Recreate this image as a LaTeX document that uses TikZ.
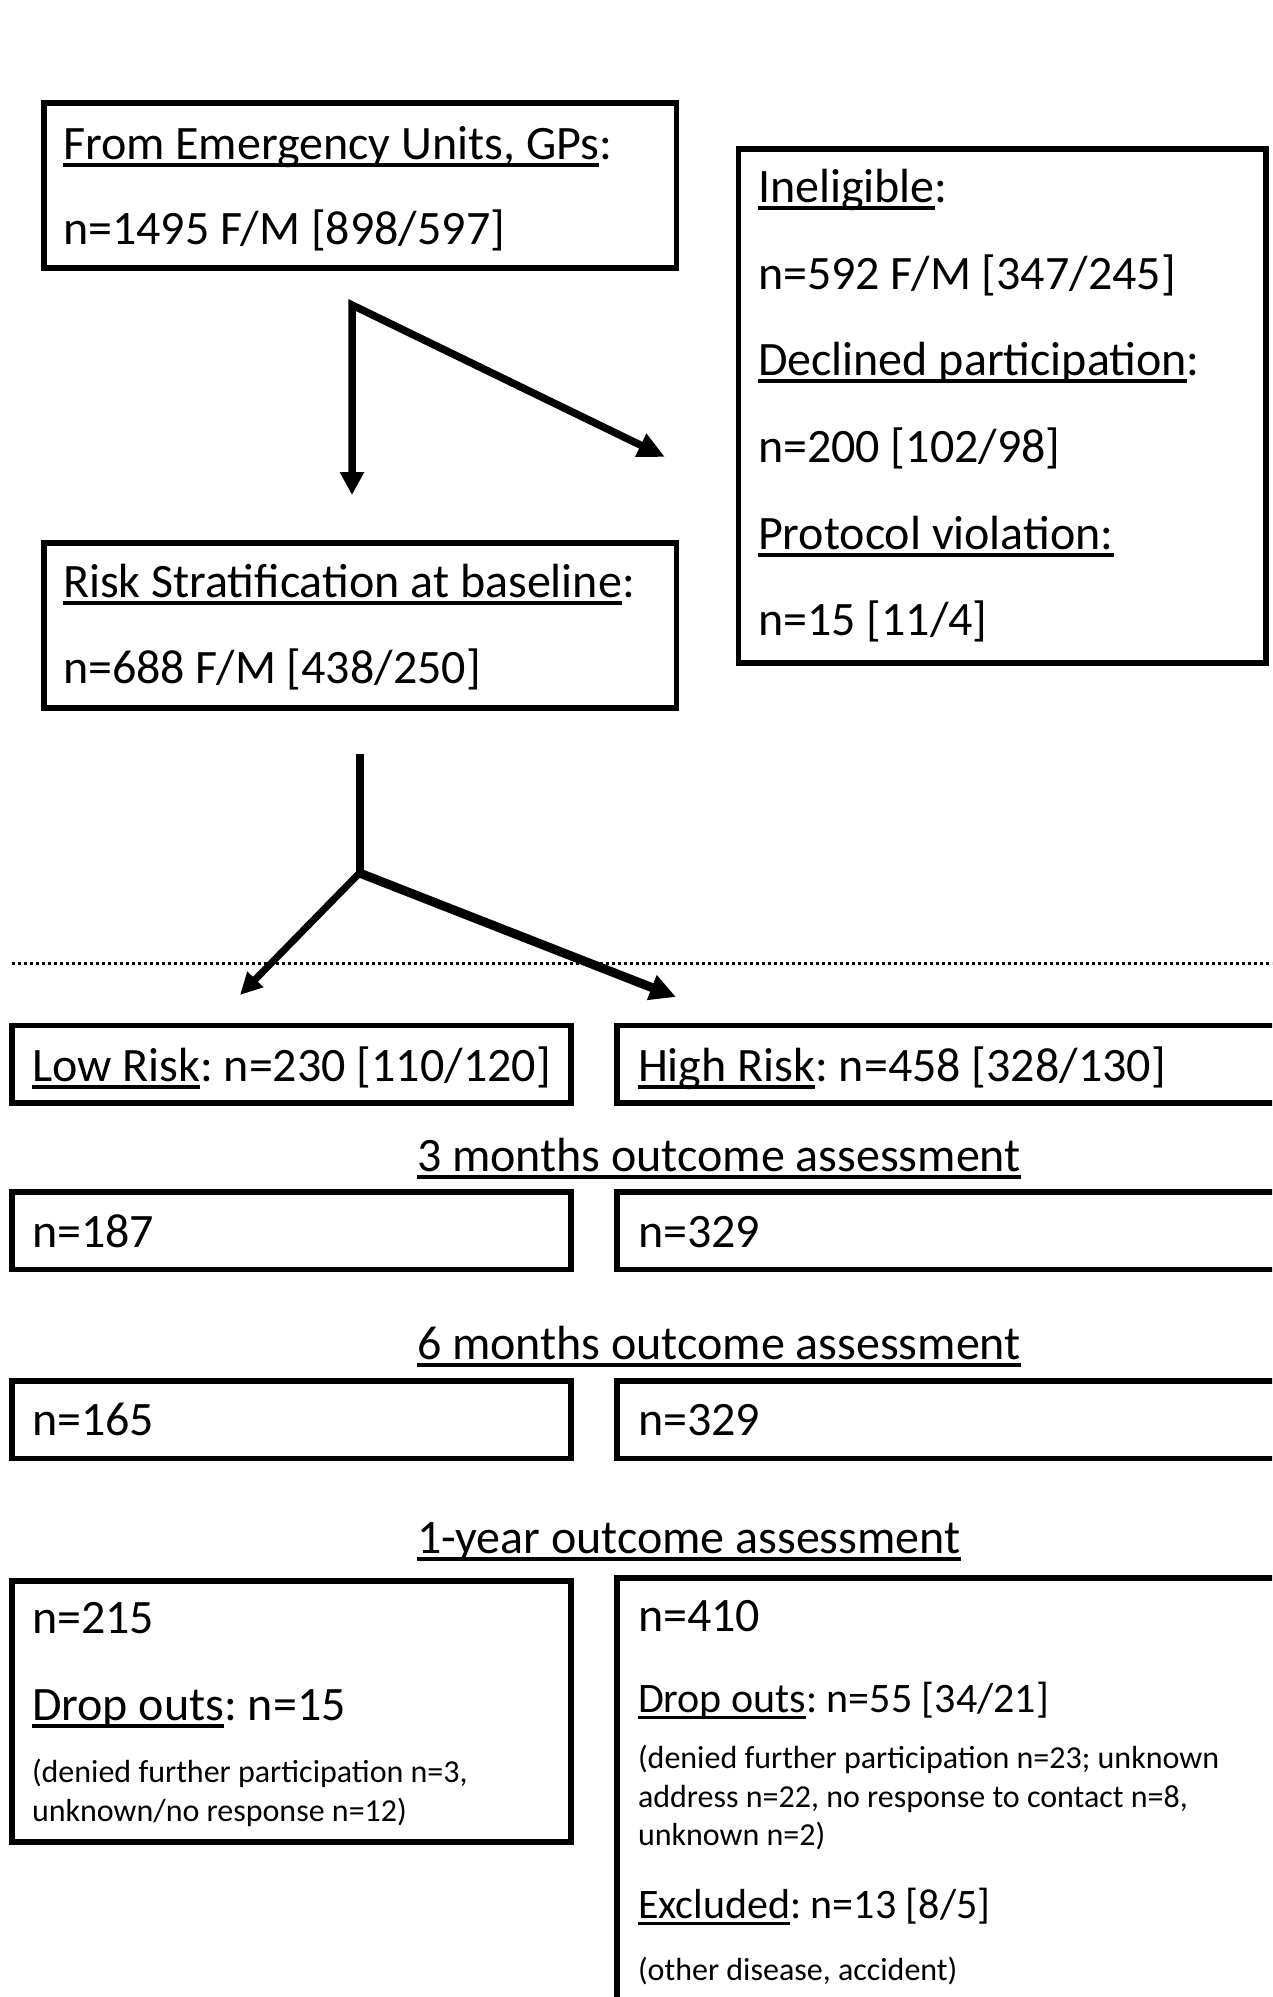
\documentclass[tikz,border=0pt]{standalone}
\usepackage{fontspec}
\setmainfont{Carlito}
\usetikzlibrary{arrows.meta}
\newlength\ulw
\newcommand\ulx[1]{\settowidth\ulw{#1}\rlap{\rule[-0.17em]{\ulw}{0.08em}}#1}
\frenchspacing
\begin{document}
\begin{tikzpicture}[x=1pt,y=-1pt,
  box/.style={draw, line width=5.5pt, rectangle, inner sep=0pt, outer sep=0pt},
  txt/.style={anchor=base west, inner sep=0pt, outer sep=0pt, font=\fontsize{48}{58}\selectfont\frenchspacing},
  txtm/.style={txt, font=\fontsize{42}{50}\selectfont\frenchspacing},
  txts/.style={txt, font=\fontsize{32}{39}\selectfont\frenchspacing},
  conntwo/.style={line width=7.5pt, line join=miter, {Triangle[length=23pt,width=23pt]}-{Triangle[length=27pt,width=24pt]}},
  dots/.style={line width=3pt, dash pattern=on 3pt off 3pt}
]
\useasboundingbox (0,0) rectangle (1272,1997);
\clip (0,0) rectangle (1272,1997);
\fill[white] (0,0) rectangle (1272,1997);

% boxes
\node[box, minimum width=632.5pt, minimum height=165pt] (b1) at (360.25,185.5) {};
\node[box, minimum width=527.5pt, minimum height=514pt] (inel) at (1002.25,406) {};
\node[box, minimum width=632.5pt, minimum height=165pt] (risk) at (360.25,625.5) {};
\node[box, minimum width=559pt, minimum height=77.5pt] (low) at (291.5,1064.25) {};
\node[box, minimum width=683pt, minimum height=77.5pt] (high) at (958.5,1064.25) {};
\node[box, minimum width=559pt, minimum height=77.5pt] (l3) at (291.5,1230.75) {};
\node[box, minimum width=683pt, minimum height=77.5pt] (h3) at (958.5,1230.75) {};
\node[box, minimum width=559pt, minimum height=77.5pt] (l6) at (291.5,1419.75) {};
\node[box, minimum width=683pt, minimum height=77.5pt] (h6) at (958.5,1419.75) {};
\node[box, minimum width=559pt, minimum height=261pt] (l12) at (291.5,1711.5) {};
\node[box, minimum width=683pt, minimum height=452pt] (h12) at (958.5,1804) {};

% texts
\node[txt] (t1a) at (63,159) {\ulx{From Emergency Units, GPs}:};
\node[txt] (t1b) at (63,244) {n=1495 F/M [898/597]};

\node[txt] (i1) at (758,202) {\ulx{Ineligible}:};
\node[txt] (i2) at (758,289) {n=592 F/M [347/245]};
\node[txt] (i3) at (758,375) {\ulx{Declined participation}:};
\node[txt] (i4) at (758,462) {n=200 [102/98]};
\node[txt] (i5) at (758,549) {\ulx{Protocol violation:}};
\node[txt] (i6) at (758,635) {n=15 [11/4]};

\node[txt] (r1) at (63,597) {\ulx{Risk Stratification at baseline}:};
\node[txt] (r2) at (63,683) {n=688 F/M [438/250]};

\node[txt] (tl) at (32,1081) {\ulx{Low Risk}: n=230 [110/120]};
\node[txt] (th) at (638,1081) {\ulx{High Risk}: n=458 [328/130]};

\node[txt] (m3) at (417,1171) {\ulx{3 months outcome assessment}};
\node[txt] (tl3) at (32,1247) {n=187};
\node[txt] (th3) at (638,1247) {n=329};

\node[txt] (m6) at (417,1359) {\ulx{6 months outcome assessment}};
\node[txt] (tl6) at (32,1435) {n=165};
\node[txt] (th6) at (638,1435) {n=329};

\node[txt] (m12) at (417,1553) {\ulx{1-year outcome assessment}};
\node[txt] (tl12a) at (32,1633) {n=215};
\node[txt] (tl12b) at (32,1720) {\ulx{Drop outs}: n=15};
\node[txts] (tl12c) at (32,1782) {(denied further participation n=3,};
\node[txts] (tl12d) at (32,1821) {unknown/no response n=12)};

\node[txt] (th12a) at (638,1631) {n=410};
\node[txtm] (th12b) at (638,1712) {\ulx{Drop outs}: n=55 [34/21]};
\node[txts] (th12c) at (638,1768) {(denied further participation n=23; unknown};
\node[txts] (th12d) at (638,1807) {address n=22, no response to contact n=8,};
\node[txts] (th12e) at (638,1845) {unknown n=2)};
\node[txtm] (th12f) at (638,1918) {\ulx{Excluded}: n=13 [8/5]};
\node[txts] (th12g) at (638,1980) {(other disease, accident)};

% connectors
\coordinate (c1) at (352,305);
\coordinate (d1) at (352,495);
\coordinate (d2) at (665,457);
\draw[conntwo] (d1) -- (c1) -- (d2);

\coordinate (s0) at (359.5,754);
\coordinate (s1) at (359.5,873);
\coordinate (sl) at (240,995);
\coordinate (sh) at (676,997);
\draw[line width=8pt] (s0) -- (s1);
\draw[line width=7pt, -{Triangle[length=22pt,width=21pt]}] (s1) -- (sl);
\draw[line width=9pt, -{Triangle[length=26pt,width=25pt]}] (s1) -- (sh);

% dotted separator
\coordinate (dl) at (12,963);
\coordinate (dr) at (1272,963);
\draw[dots] (dl) -- (dr);
\end{tikzpicture}
\end{document}
